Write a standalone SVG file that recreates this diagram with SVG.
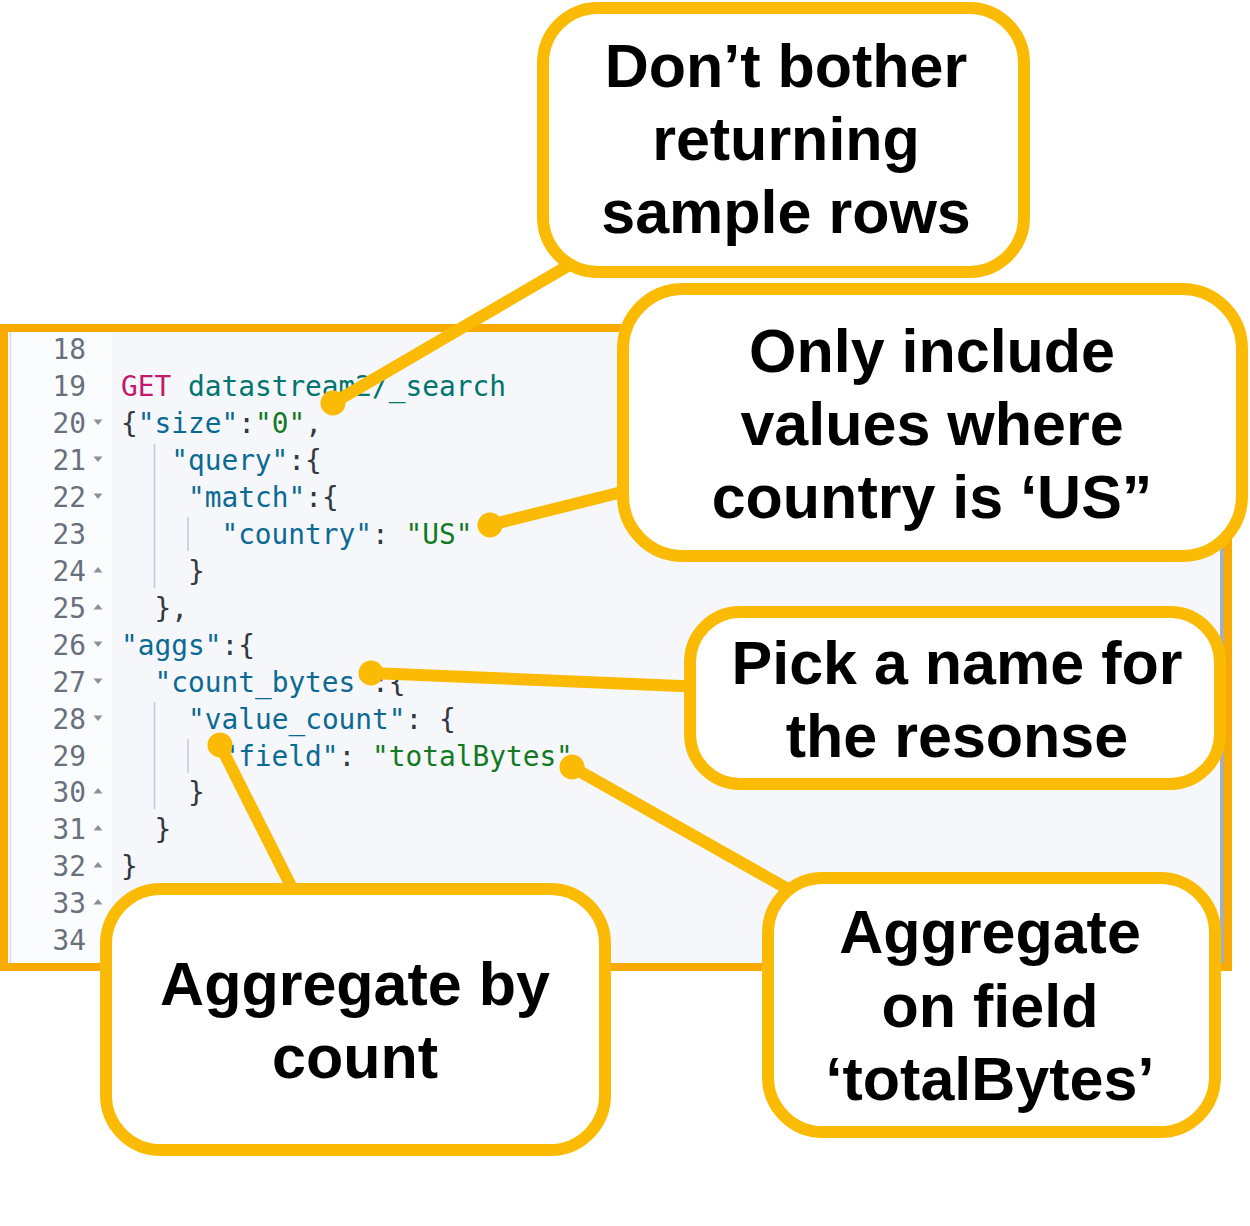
<svg xmlns="http://www.w3.org/2000/svg" xmlns:xlink="http://www.w3.org/1999/xlink" width="1250" height="1226" viewBox="0 0 1250 1226">
<style>
.ln{font-family:"DejaVu Sans Mono","Liberation Mono",monospace;font-size:27.8px;fill:#69707d;text-anchor:end}
.code{font-family:"DejaVu Sans Mono","Liberation Mono",monospace;font-size:27.8px;fill:#343741}
.k{fill:#0b6a94}
.v{fill:#127a22}
.m{fill:#c4186c}
.p{fill:#00756f}
.guide{stroke:#c3c9d2;stroke-width:1.5}
.fold{fill:#8a909b}
.callout rect{fill:#ffffff;stroke:#fbbb04;stroke-width:12}
.callout text{font-family:"Liberation Sans",Arial,sans-serif;font-weight:bold;font-size:61px;fill:#000;text-anchor:middle}
.conn line{stroke:#fbbb04;stroke-width:12}
.conn circle{fill:#fbbb04}
</style>
<defs>
<path id="dn" d="M-4.5,-2.5 L4.5,-2.5 L0,3 Z"/>
<path id="up" d="M-4.5,2.5 L4.5,2.5 L0,-3 Z"/>
</defs>
<rect width="1250" height="1226" fill="#ffffff"/>
<g id="panel">
<rect x="4" y="328" width="1224" height="639" fill="#fbfcfd" stroke="#f8aa00" stroke-width="8"/>
<rect x="112" y="332" width="1108" height="631" fill="#f5f7fa"/>
<rect x="1220" y="332" width="4" height="631" fill="#a9aeb5"/>
<line x1="10.5" y1="332" x2="10.5" y2="963" stroke="#d8dde5" stroke-width="1.5"/>
<g id="linenumbers">
<text class="ln" x="86" y="359">18</text>
<text class="ln" x="86" y="396">19</text>
<text class="ln" x="86" y="433">20</text>
<text class="ln" x="86" y="470">21</text>
<text class="ln" x="86" y="507">22</text>
<text class="ln" x="86" y="544">23</text>
<text class="ln" x="86" y="581">24</text>
<text class="ln" x="86" y="618">25</text>
<text class="ln" x="86" y="655">26</text>
<text class="ln" x="86" y="692">27</text>
<text class="ln" x="86" y="729">28</text>
<text class="ln" x="86" y="766">29</text>
<text class="ln" x="86" y="802">30</text>
<text class="ln" x="86" y="839">31</text>
<text class="ln" x="86" y="876">32</text>
<text class="ln" x="86" y="913">33</text>
<text class="ln" x="86" y="950">34</text>
</g>
<g id="folds" class="fold">
<use xlink:href="#dn" x="98" y="422"/>
<use xlink:href="#dn" x="98" y="459"/>
<use xlink:href="#dn" x="98" y="496"/>
<use xlink:href="#up" x="98" y="570"/>
<use xlink:href="#up" x="98" y="607"/>
<use xlink:href="#dn" x="98" y="644"/>
<use xlink:href="#dn" x="98" y="681"/>
<use xlink:href="#dn" x="98" y="718"/>
<use xlink:href="#up" x="98" y="791"/>
<use xlink:href="#up" x="98" y="828"/>
<use xlink:href="#up" x="98" y="865"/>
<use xlink:href="#up" x="98" y="902"/>
</g>
<g id="guides" class="guide">
<line x1="154.5" y1="444" x2="154.5" y2="588"/>
<line x1="188" y1="517" x2="188" y2="551"/>
<line x1="154.5" y1="702" x2="154.5" y2="809"/>
<line x1="188" y1="739" x2="188" y2="773"/>
</g>
<g id="code" class="code" xml:space="preserve">
<text x="121" y="396"><tspan class="m">GET</tspan> <tspan class="p">datastream2/_search</tspan></text>
<text x="121" y="433">{<tspan class="k">"size"</tspan>:<tspan class="v">"0"</tspan>,</text>
<text x="171.2" y="470"><tspan class="k">"query"</tspan>:{</text>
<text x="188" y="507"><tspan class="k">"match"</tspan>:{</text>
<text x="221.4" y="544"><tspan class="k">"country"</tspan>: <tspan class="v">"US"</tspan></text>
<text x="188" y="581">}</text>
<text x="154.5" y="618">},</text>
<text x="121" y="655"><tspan class="k">"aggs"</tspan>:{</text>
<text x="154.5" y="692"><tspan class="k">"count_bytes"</tspan>:{</text>
<text x="188" y="729"><tspan class="k">"value_count"</tspan>: {</text>
<text x="221.4" y="766"><tspan class="k">"field"</tspan>: <tspan class="v">"totalBytes"</tspan></text>
<text x="188" y="802">}</text>
<text x="154.5" y="839">}</text>
<text x="121" y="876">}</text>
</g>
</g>
<g id="connectors" class="conn">
<line x1="333" y1="403" x2="578" y2="260"/>
<circle cx="333" cy="403" r="12.5"/>
<line x1="490" y1="525" x2="642" y2="487"/>
<circle cx="490" cy="525" r="12.5"/>
<line x1="371" y1="673" x2="705" y2="687"/>
<circle cx="371" cy="673" r="12.5"/>
<line x1="220" y1="745" x2="297" y2="898"/>
<circle cx="220" cy="745" r="12.5"/>
<line x1="572" y1="767" x2="795" y2="893"/>
<circle cx="572" cy="767" r="12.5"/>
</g>
<g id="callout-size" class="callout">
<rect x="543" y="8" width="481" height="264" rx="55"/>
<text x="786" y="87">Don’t bother</text>
<text x="786" y="160">returning</text>
<text x="786" y="233">sample rows</text>
</g>
<g id="callout-query" class="callout">
<rect x="623" y="289" width="619" height="267" rx="60"/>
<text x="932" y="372">Only include</text>
<text x="932" y="445">values where</text>
<text x="932" y="518">country is ‘US”</text>
</g>
<g id="callout-name" class="callout">
<rect x="690" y="612" width="530" height="172" rx="50"/>
<text x="957" y="684">Pick a name for</text>
<text x="957" y="757">the resonse</text>
</g>
<g id="callout-count" class="callout">
<rect x="106" y="889" width="499" height="261" rx="55"/>
<text x="355" y="1005">Aggregate by</text>
<text x="355" y="1078">count</text>
</g>
<g id="callout-field" class="callout">
<rect x="768" y="878" width="447" height="254" rx="55"/>
<text x="990" y="953">Aggregate</text>
<text x="990" y="1027">on field</text>
<text x="990" y="1100">‘totalBytes’</text>
</g>
</svg>
